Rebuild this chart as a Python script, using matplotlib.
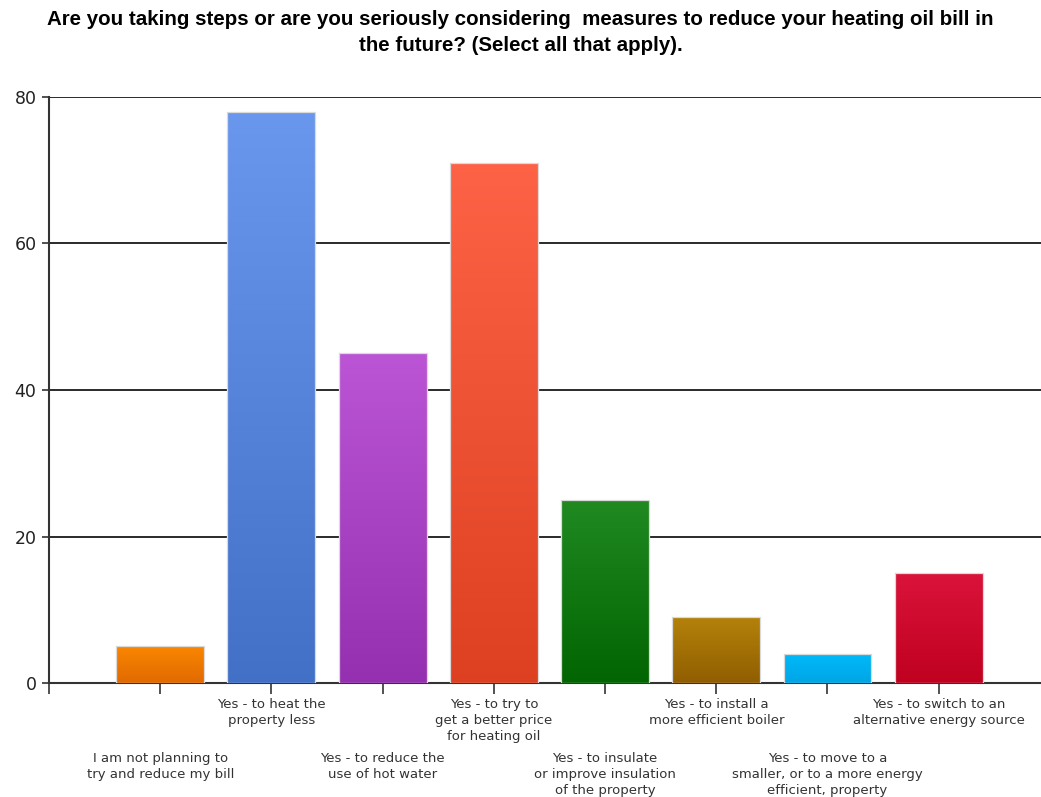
import numpy as np
import matplotlib
matplotlib.use("Agg")
import matplotlib.pyplot as plt
from matplotlib.colors import LinearSegmentedColormap

# data
categories = [
    "I am not planning to\ntry and reduce my bill",
    "Yes - to heat the\nproperty less",
    "Yes - to reduce the\nuse of hot water",
    "Yes - to try to\nget a better price\nfor heating oil",
    "Yes - to insulate\nor improve insulation\nof the property",
    "Yes - to install a\nmore efficient boiler",
    "Yes - to move to a\nsmaller, or to a more energy\nefficient, property",
    "Yes - to switch to an\nalternative energy source",
]
values = [5, 78, 45, 71, 25, 9, 4, 15]
top_colors = ["#FF8C00", "#6A98EE", "#BC56D6", "#FF6347", "#228B22", "#B8860B", "#00BFFF", "#DC143C"]
bottom_colors = ["#DC6400", "#4270C6", "#9430B0", "#DC4020", "#006400", "#8C5A00", "#00A0E0", "#BE001E"]

title = ("Are you taking steps or are you seriously considering  measures to reduce your heating oil bill in\n"
         "the future? (Select all that apply).")

fig = plt.figure(figsize=(10.41, 7.97), dpi=100)
ax = fig.add_axes([49 / 1041, 1 - 683 / 797, 1 - 49 / 1041, (683 - 97) / 797])

x = np.arange(1, len(values) + 1)
width = 0.79
grad = np.linspace(0, 1, 256).reshape(-1, 1)
bars = ax.bar(x, values, width=width, facecolor="none", edgecolor="#DADADA", linewidth=0.9, zorder=4)
for rect, v, c_top, c_bot in zip(bars, values, top_colors, bottom_colors):
    xi = rect.get_x()
    cmap = LinearSegmentedColormap.from_list("g", [c_bot, c_top])
    im = ax.imshow(grad, cmap=cmap, origin="lower", aspect="auto",
                   extent=(xi - 0.05, xi + width + 0.05, -1, v + 1), zorder=3)
    im.set_clip_path(rect)

ax.set_xlim(0, 8.92)
ax.set_ylim(0, 80)
ax.set_yticks([0, 20, 40, 60, 80])
ax.yaxis.grid(True, color="#2a2a2a", linewidth=1.4, zorder=0)
ax.set_axisbelow(True)
ax.tick_params(axis="y", length=5, width=1.2, color="#333333", labelsize=12.5, labelcolor="#222222", pad=4)
ax.set_xticks(np.concatenate([[0], x]))
ax.set_xticklabels([])
ax.tick_params(axis="x", length=8, width=1.2, color="#333333")
for s in ["top", "right"]:
    ax.spines[s].set_visible(False)
for s in ["left", "bottom"]:
    ax.spines[s].set_linewidth(1.5)
    ax.spines[s].set_color("#333333")

# staggered category labels
for i, (xi, lab) in enumerate(zip(x, categories)):
    y = -0.026 if i % 2 == 1 else -0.118
    ax.text(xi, y, lab, transform=ax.get_xaxis_transform(), ha="center", va="top",
            fontsize=9.5, color="#333333", linespacing=1.3)

fig.text(0.5, 0.987, title, ha="center", va="top", fontsize=14.8, fontweight="bold",
         family="Liberation Sans", linespacing=1.45)

fig.savefig("out.png", dpi=100)
